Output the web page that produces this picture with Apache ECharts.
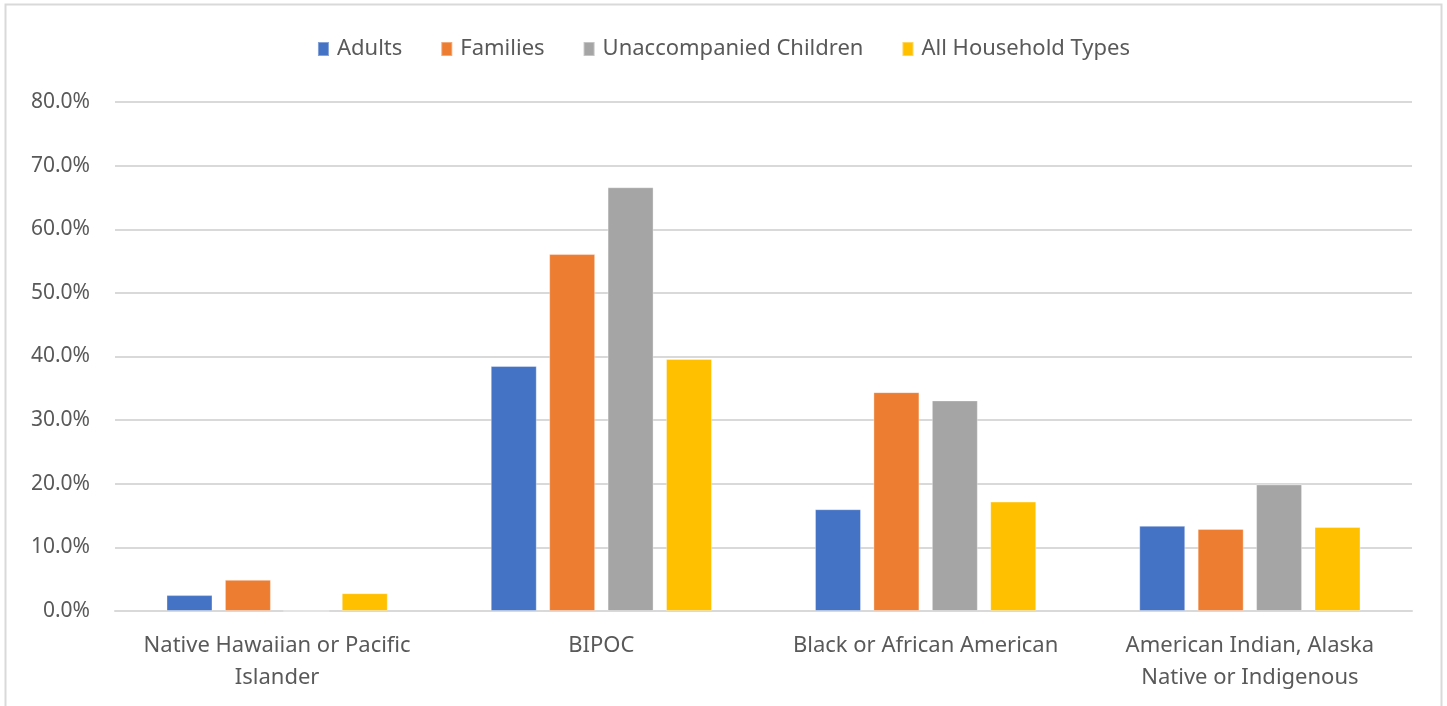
<!DOCTYPE html>
<html>
<head>
<meta charset="utf-8">
<script src="https://cdn.jsdelivr.net/npm/echarts@6/dist/echarts.min.js"></script>
<style>
html,body{margin:0;padding:0;background:#fff;}
#chart{width:1447px;height:706px;}
</style>
</head>
<body>
<div id="chart"></div>
<script>
const categories = ["Native Hawaiian or Pacific\nIslander", "BIPOC", "Black or African American", "American Indian, Alaska\nNative or Indigenous"];
const adults = [2.5, 38.5, 16.0, 13.4];
const families = [4.9, 56.1, 34.4, 12.9];
const unaccompanied = [0, 66.6, 33.1, 19.9];
const allHouseholds = [2.8, 39.6, 17.2, 13.2];
const yTicks = [0, 10, 20, 30, 40, 50, 60, 70, 80];

const chart = echarts.init(document.getElementById('chart'));
const font = 'Noto Sans, Open Sans, sans-serif';
function bar(name, data, color) {
  return {
    name: name, type: 'bar', data: data, barWidth: 46, barGap: '27%',
    itemStyle: { color: color, borderColor: 'rgba(255,255,255,0.35)', borderWidth: 1 }
  };
}
chart.setOption({
  animation: false,
  textStyle: { fontFamily: font },
  graphic: [{
    type: 'rect', shape: { x: 5.5, y: 4.5, width: 1436, height: 720 },
    style: { fill: 'none', stroke: '#d9d9d9', lineWidth: 2 }, silent: true
  }],
  legend: {
    top: 33, left: 'center', itemWidth: 11, itemHeight: 14, itemGap: 38,
    icon: 'rect',
    textStyle: { color: '#595959', fontSize: 22, fontFamily: font, padding: [0, 0, 0, 3] }
  },
  grid: { left: 115, right: 35, top: 102, bottom: 95 },
  xAxis: {
    type: 'category', data: categories,
    axisLine: { lineStyle: { color: '#d9d9d9', width: 2 } },
    axisTick: { show: false },
    axisLabel: { color: '#595959', fontSize: 22, lineHeight: 32, margin: 19, interval: 0, fontFamily: font }
  },
  yAxis: {
    type: 'value', min: yTicks[0], max: yTicks[yTicks.length - 1], interval: 10,
    axisLine: { show: false }, axisTick: { show: false },
    splitLine: { lineStyle: { color: '#d9d9d9', width: 2 } },
    axisLabel: { color: '#595959', fontSize: 21, margin: 25, fontFamily: font,
      formatter: v => v.toFixed(1) + '%' }
  },
  series: [
    bar('Adults', adults, '#4472c4'),
    bar('Families', families, '#ed7d31'),
    bar('Unaccompanied Children', unaccompanied, '#a5a5a5'),
    bar('All Household Types', allHouseholds, '#ffc000')
  ]
});
</script>
</body>
</html>
